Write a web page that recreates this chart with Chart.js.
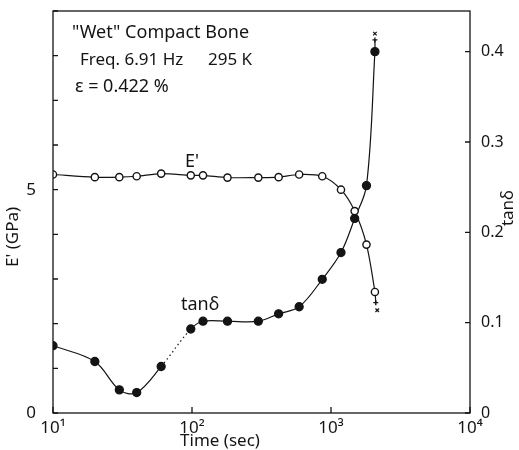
<!DOCTYPE html>
<html>
<head>
<meta charset="utf-8">
<script src="https://cdn.jsdelivr.net/npm/chart.js@4/dist/chart.umd.min.js"></script>
<style>
  html, body { margin: 0; padding: 0; background: #fff; }
</style>
</head>
<body>
<canvas id="chart" width="519" height="450"></canvas>
<script>
const timeSec = [10, 20, 30, 40, 60, 98, 120, 180, 300, 420, 590, 865, 1180, 1480, 1800, 2070];
const modulusGPa = [5.34, 5.28, 5.28, 5.30, 5.36, 5.32, 5.32, 5.27, 5.27, 5.28, 5.34, 5.30, 5.0, 4.52, 3.77, 2.71];
const tanDelta = [0.0745, 0.057, 0.0256, 0.0226, 0.0515, 0.093, 0.1016, 0.1016, 0.1016, 0.1098, 0.1176, 0.148, 0.1776, 0.2154, 0.2517, 0.400];

// the + and x marks past the last point (failure)
const modulusEndTime = [2100, 2150];
const modulusEnd = [2.47, 2.30];
const tanEndTime = [2070, 2070];
const tanEnd = [0.413, 0.420];

const xTicks = [10, 100, 1000, 10000];
const xLabels = ['10\u00b9', '10\u00b2', '10\u00b3', '10\u2074'];
const leftTicks = [0, 1, 2, 3, 4, 5, 6, 7, 8, 9];
const leftLabels = ['0', '', '', '', '', '5', '', '', '', ''];
const rightTicks = [0, 0.1, 0.2, 0.3, 0.4];
const rightLabels = ['0', '0.1', '0.2', '0.3', '0.4'];

const font = 'Noto Sans';
const ink = '#141414';

const toPts = (xs, ys) => xs.map((x, i) => ({ x: x, y: ys[i] }));

const modulusLine = toPts(timeSec, modulusGPa).concat({ x: modulusEndTime[0], y: modulusEnd[0] });
const tanLine = toPts(timeSec, tanDelta).concat({ x: tanEndTime[0], y: tanEnd[0] });

const frame = {
  id: 'frame',
  afterDraw(chart) {
    const { ctx, chartArea: a, scales } = chart;
    ctx.save();
    ctx.strokeStyle = ink;
    ctx.lineWidth = 1.3;
    ctx.strokeRect(a.left, a.top, a.right - a.left, a.bottom - a.top);

    // inward ticks
    ctx.beginPath();
    xTicks.forEach((v) => {
      const px = scales.x.getPixelForValue(v);
      ctx.moveTo(px, a.bottom);
      ctx.lineTo(px, a.bottom - 6);
    });
    leftTicks.forEach((v) => {
      const py = scales.y.getPixelForValue(v);
      ctx.moveTo(a.left, py);
      ctx.lineTo(a.left + 5, py);
    });
    rightTicks.forEach((v) => {
      const py = scales.y2.getPixelForValue(v);
      ctx.moveTo(a.right, py);
      ctx.lineTo(a.right - 5, py);
    });
    ctx.stroke();

    // texts
    ctx.fillStyle = ink;
    ctx.textBaseline = 'middle';
    ctx.font = `18px "${font}"`;
    ctx.textAlign = 'left';
    ctx.fillText('"Wet" Compact Bone', 72, 33);
    ctx.fillText('\u03b5 = 0.422 %', 75, 87);
    ctx.fillText("E'", 185, 162);
    ctx.fillText('tan\u03b4', 181, 305);
    ctx.font = `17px "${font}"`;
    ctx.fillText('Freq. 6.91 Hz', 80, 60);
    ctx.fillText('295 K', 208, 60);

    ctx.textAlign = 'center';
    ctx.fillText('Time (sec)', 220, 441);

    ctx.save();
    ctx.translate(13, 237);
    ctx.rotate(-Math.PI / 2);
    ctx.fillText("E' (GPa)", 0, 0);
    ctx.restore();

    ctx.save();
    ctx.translate(508, 208);
    ctx.rotate(-Math.PI / 2);
    ctx.fillText('tan\u03b4', 0, 0);
    ctx.restore();

    ctx.restore();
  },
};

new Chart(document.getElementById('chart'), {
  type: 'line',
  data: {
    datasets: [
      {
        label: "E'",
        data: modulusLine,
        yAxisID: 'y',
        borderColor: ink,
        borderWidth: 1.2,
        backgroundColor: '#fff',
        tension: 0.3,
        pointStyle: (c) => (c.dataIndex === modulusLine.length - 1 ? 'cross' : 'circle'),
        pointRadius: (c) => (c.dataIndex === modulusLine.length - 1 ? 2.5 : 3.6),
        pointBorderWidth: 1.4,
        pointBorderColor: ink,
        pointBackgroundColor: '#fff',
      },
      {
        label: 'tan\u03b4',
        data: tanLine,
        yAxisID: 'y2',
        borderColor: ink,
        borderWidth: 1.2,
        tension: 0.35,
        pointStyle: (c) => (c.dataIndex === tanLine.length - 1 ? 'cross' : 'circle'),
        pointRadius: (c) => (c.dataIndex === tanLine.length - 1 ? 2.5 : 4),
        pointBorderWidth: 1.3,
        pointBorderColor: ink,
        pointBackgroundColor: ink,
        segment: {
          borderDash: (c) => (c.p0DataIndex === 4 ? [1.5, 3] : undefined),
        },
      },
      {
        label: 'E end',
        data: toPts([modulusEndTime[1]], [modulusEnd[1]]),
        yAxisID: 'y',
        showLine: false,
        pointStyle: 'crossRot',
        pointRadius: 2.5,
        pointBorderWidth: 1.2,
        pointBorderColor: ink,
      },
      {
        label: 'tan end',
        data: toPts([tanEndTime[1]], [tanEnd[1]]),
        yAxisID: 'y2',
        showLine: false,
        pointStyle: 'crossRot',
        pointRadius: 2.5,
        pointBorderWidth: 1.2,
        pointBorderColor: ink,
      },
    ],
  },
  options: {
    responsive: false,
    animation: false,
    layout: { padding: { top: 11 } },
    plugins: { legend: { display: false }, tooltip: { enabled: false } },
    scales: {
      x: {
        type: 'logarithmic',
        min: 10,
        max: 10000,
        grid: { display: false },
        border: { display: false },
        afterBuildTicks: (s) => { s.ticks = xTicks.map((v) => ({ value: v })); },
        afterFit: (s) => { s.height = 37; s.paddingLeft = 0; s.paddingRight = 0; },
        ticks: {
          autoSkip: false,
          maxRotation: 0,
          padding: -3,
          color: ink,
          font: { family: font, size: 17 },
          callback: (v) => xLabels[xTicks.indexOf(v)],
        },
      },
      y: {
        position: 'left',
        min: 0,
        max: 9,
        grid: { display: false },
        border: { display: false },
        afterBuildTicks: (s) => { s.ticks = leftTicks.map((v) => ({ value: v })); },
        afterFit: (s) => { s.width = 53; s.paddingTop = 0; s.paddingBottom = 0; },
        ticks: {
          autoSkip: false,
          padding: 9,
          color: ink,
          font: { family: font, size: 17 },
          callback: (v) => leftLabels[leftTicks.indexOf(v)],
        },
      },
      y2: {
        position: 'right',
        min: 0,
        max: 0.445,
        grid: { display: false },
        border: { display: false },
        afterBuildTicks: (s) => { s.ticks = rightTicks.map((v) => ({ value: v })); },
        afterFit: (s) => { s.width = 49; s.paddingTop = 0; s.paddingBottom = 0; },
        ticks: {
          autoSkip: false,
          padding: 3,
          color: ink,
          font: { family: font, size: 16 },
          callback: (v, i) => rightLabels[i],
        },
      },
    },
  },
  plugins: [frame],
});
</script>
</body>
</html>
